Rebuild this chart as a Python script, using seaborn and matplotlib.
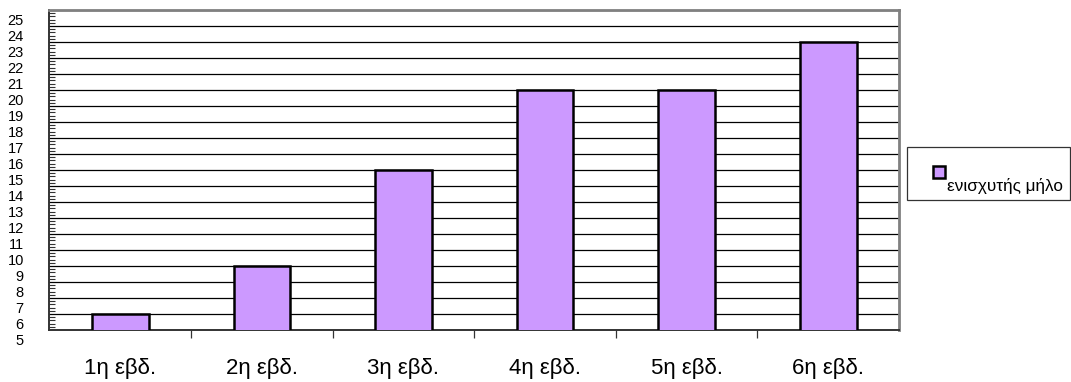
import matplotlib
matplotlib.use("Agg")
import matplotlib.pyplot as plt
import matplotlib.transforms as mtransforms
from matplotlib.patches import Patch, Rectangle
from matplotlib.legend_handler import HandlerPatch
from matplotlib.ticker import MultipleLocator
import pandas as pd
import seaborn as sns

weeks = ["1η εβδ.", "2η εβδ.", "3η εβδ.", "4η εβδ.", "5η εβδ.", "6η εβδ."]
booster = [6, 9, 15, 20, 20, 23]
series_name = "ενισχυτής μήλο"
y_ticks = list(range(5, 26))

sns.set_style("white")
plt.rcParams["font.family"] = ["Liberation Sans", "DejaVu Sans"]
plt.rcParams["text.color"] = "black"

df = pd.DataFrame({"week": weeks, "value": booster})

fig = plt.figure(figsize=(10.71, 3.82), dpi=100)
ax = fig.add_axes([0.0462, 0.1361, 0.7932, 0.8377])

sns.barplot(data=df, x="week", y="value", color="#CC99FF", width=0.4,
            edgecolor="black", linewidth=1.8, saturation=1, ax=ax, zorder=3)

ax.set_ylim(5, 25)
ax.set_xlim(-0.5, len(weeks) - 0.5)
ax.set_xlabel("")
ax.set_ylabel("")

# horizontal gridlines at each unit
for v in y_ticks[1:]:
    ax.axhline(v, color="black", linewidth=0.9, zorder=1)

ax.yaxis.set_minor_locator(MultipleLocator(0.2))
ax.set_yticks(y_ticks)
ax.set_yticklabels([str(v) for v in y_ticks])
ax.tick_params(axis="y", which="major", direction="out", length=6, width=0.9,
               color="#333333", labelsize=10.5, labelcolor="black", pad=12.5)
ax.tick_params(axis="y", which="minor", direction="in", length=4, width=0.8,
               color="#333333", left=True)

# y labels sit half a step below their gridlines
shift = mtransforms.ScaledTranslation(0, -0.095, fig.dpi_scale_trans)
for lab in ax.get_yticklabels():
    lab.set_transform(lab.get_transform() + shift)

# category ticks at the boundaries between weeks, labels centred under bars
ax.set_xticks([i + 0.5 for i in range(len(weeks) - 1)], minor=True)
ax.set_xticks(range(len(weeks)))
ax.set_xticklabels(weeks, fontsize=16)
ax.tick_params(axis="x", which="major", length=0, pad=20, labelcolor="black")
ax.tick_params(axis="x", which="minor", direction="out", length=6, width=0.9,
               color="#333333", bottom=True)

for side in ["left", "bottom"]:
    ax.spines[side].set_color("#333333")
    ax.spines[side].set_linewidth(1.4)
for side in ["top", "right"]:
    ax.spines[side].set_visible(True)
    ax.spines[side].set_color("#808080")
    ax.spines[side].set_linewidth(2.0)


def small_square(legend, orig_handle, xdescent, ydescent, width, height, fontsize):
    # square swatch pushed to the right end of the handle box, raised above the text
    side = 8.5
    x0 = -xdescent + width - side + 2
    y0 = -ydescent + height * 0.53 - side / 2
    return Rectangle((x0, y0), side, side)


handle = Patch(facecolor="#CC99FF", edgecolor="black", linewidth=1.8)
leg = fig.legend([handle], [series_name], loc="center left",
                 bbox_to_anchor=(0.847, 0.546), fontsize=12.3, frameon=True,
                 fancybox=False, edgecolor="black", handlelength=1.65,
                 handleheight=3.2, handletextpad=0.3, borderpad=0.4,
                 borderaxespad=0,
                 handler_map={Patch: HandlerPatch(patch_func=small_square)})
leg.get_frame().set_linewidth(0.9)
for t in leg.get_texts():
    t.set_va("top")

fig.savefig("out.png", dpi=100, facecolor="white")
